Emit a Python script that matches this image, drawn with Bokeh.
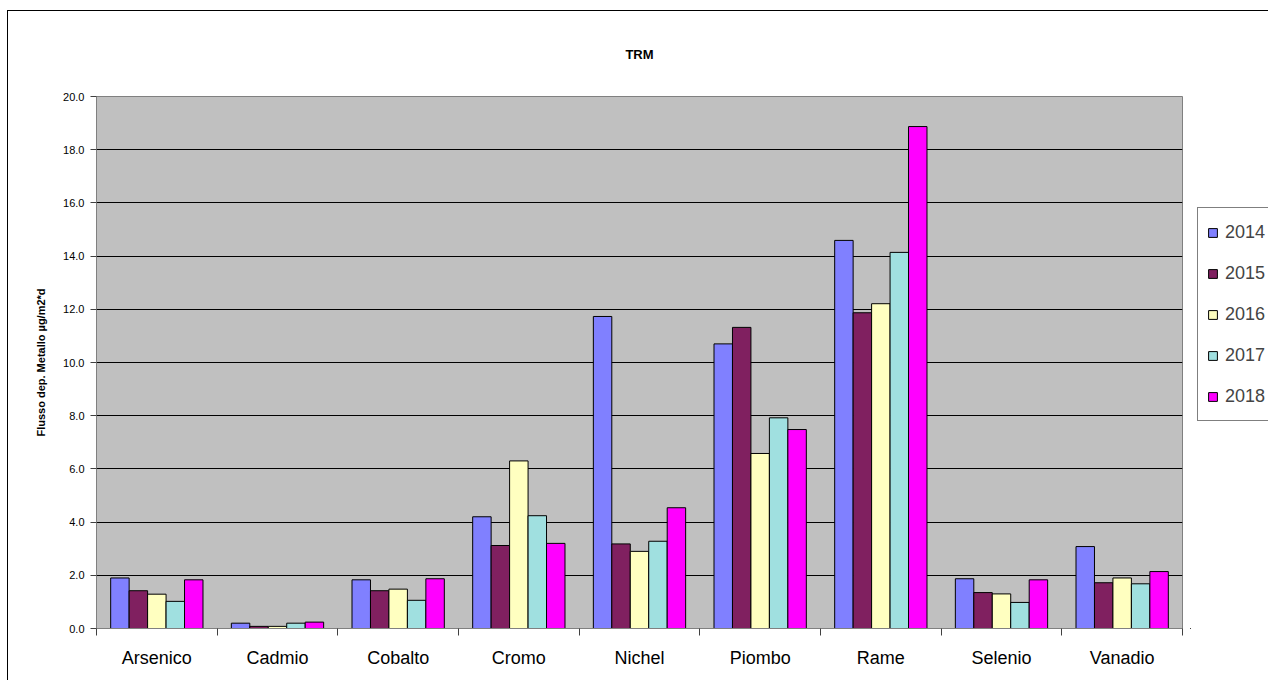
from bokeh.plotting import figure
from bokeh.layouts import row
from bokeh.models import (ColumnDataSource, Range1d, LinearAxis, FixedTicker, Legend, LegendItem,
                          Title, NumeralTickFormatter)
from bokeh.transform import dodge
from bokeh.embed import file_html
from bokeh.resources import INLINE

categories = ["Arsenico", "Cadmio", "Cobalto", "Cromo", "Nichel", "Piombo", "Rame", "Selenio", "Vanadio"]
years = ["2014", "2015", "2016", "2017", "2018"]
v2014 = [1.90, 0.20, 1.83, 4.20, 11.73, 10.70, 14.59, 1.87, 3.08]
v2015 = [1.42, 0.08, 1.42, 3.12, 3.18, 11.32, 11.87, 1.35, 1.72]
v2016 = [1.29, 0.08, 1.48, 6.30, 2.90, 6.58, 12.21, 1.30, 1.90]
v2017 = [1.02, 0.20, 1.06, 4.24, 3.28, 7.92, 14.14, 0.98, 1.68]
v2018 = [1.83, 0.24, 1.87, 3.20, 4.54, 7.48, 18.87, 1.83, 2.14]
colors = ["#8080FF", "#802060", "#FFFFC0", "#A0E0E0", "#FF00FF"]
y_ticks = [0, 2, 4, 6, 8, 10, 12, 14, 16, 18, 20]
title_text = "TRM"
y_label = "Flusso dep. Metallo µg/m2*d"

FONT = "Liberation Sans"

n = len(categories)
centers = [i + 0.5 for i in range(n)]
boundaries = list(range(n + 1))

source = ColumnDataSource(data=dict(x=centers, cat=categories, y2014=v2014, y2015=v2015,
                                    y2016=v2016, y2017=v2017, y2018=v2018))

H = 669
p = figure(x_range=Range1d(0, n), y_range=Range1d(0, 20),
           width=1182, height=H, output_backend="svg", toolbar_location=None,
           x_axis_location=None, y_axis_location=None,
           min_border_left=88, min_border_top=85, min_border_right=8, min_border_bottom=52)

p.background_fill_color = "#C0C0C0"
p.border_fill_color = "white"
p.outline_line_color = "#808080"
p.outline_line_width = 1

# title
p.title = Title(text=title_text, align="center", vertical_align="top", text_font=FONT,
                text_font_size="13px", text_font_style="bold", text_color="black",
                standoff=66)

# y axis
yaxis = LinearAxis(ticker=FixedTicker(ticks=y_ticks), formatter=NumeralTickFormatter(format="0.0"),
                   axis_label=y_label)
yaxis.axis_line_color = "#808080"
yaxis.major_tick_line_color = "#404040"
yaxis.major_tick_out = 6
yaxis.major_tick_in = 0
yaxis.minor_tick_line_color = None
yaxis.major_label_standoff = 6
yaxis.major_label_text_font = FONT
yaxis.major_label_text_font_size = "11px"
yaxis.major_label_text_color = "black"
yaxis.axis_label_text_font = FONT
yaxis.axis_label_text_font_size = "11px"
yaxis.axis_label_text_font_style = "bold"
yaxis.axis_label_text_color = "black"
yaxis.axis_label_standoff = 13
p.add_layout(yaxis, "left")

# x axis: category labels at centres, tick marks between categories
xaxis = LinearAxis(ticker=FixedTicker(ticks=centers, minor_ticks=boundaries))
xaxis.major_label_overrides = {c: name for c, name in zip(centers, categories)}
xaxis.axis_line_color = "#808080"
xaxis.major_tick_line_color = None
xaxis.major_tick_out = 0
xaxis.major_tick_in = 0
xaxis.minor_tick_line_color = "#404040"
xaxis.minor_tick_out = 7
xaxis.minor_tick_in = 0
xaxis.major_label_standoff = 12
xaxis.major_label_text_font = FONT
xaxis.major_label_text_font_size = "18px"
xaxis.major_label_text_color = "black"
p.add_layout(xaxis, "below")

p.xgrid.grid_line_color = None
p.ygrid.ticker = FixedTicker(ticks=y_ticks)
p.ygrid.grid_line_color = "black"
p.ygrid.grid_line_width = 1

bw = 0.153
offsets = [-2 * bw, -bw, 0, bw, 2 * bw]
fields = ["y2014", "y2015", "y2016", "y2017", "y2018"]
for f, off, c in zip(fields, offsets, colors):
    p.vbar(x=dodge("x", off), top=f, width=bw, source=source,
           fill_color=c, line_color="black", line_width=1)

# legend panel (separate canvas to the right of the chart)
lp = figure(width=78, height=H, output_backend="svg", toolbar_location=None,
            x_axis_location=None, y_axis_location=None, x_range=Range1d(0, 1), y_range=Range1d(0, 1),
            min_border=0, min_border_left=0, min_border_right=0, min_border_top=0, min_border_bottom=0)
lp.outline_line_color = None
lp.background_fill_color = "white"
lp.border_fill_color = "white"
lp.xgrid.visible = False
lp.ygrid.visible = False
# swatch-only renderers (their single point lies outside the visible range)
swatch_src = ColumnDataSource(data=dict(x=[-10.0], top=[0.0]))
legend_renderers = []
for c in colors:
    legend_renderers.append(lp.vbar(x="x", top="top", width=0.1, source=swatch_src,
                                    fill_color=c, line_color="black", line_width=1))

legend = Legend(items=[LegendItem(label=yr, renderers=[r]) for yr, r in zip(years, legend_renderers)],
                location=(7, 207))
legend.label_text_font = FONT
legend.label_text_font_size = "18px"
legend.glyph_width = 11
legend.glyph_height = 11
legend.label_height = 30
legend.spacing = 11
legend.padding = 9
legend.margin = 0
legend.label_standoff = 7
legend.border_line_color = "black"
legend.border_line_width = 1
legend.background_fill_color = "white"
legend.background_fill_alpha = 1
lp.add_layout(legend, "center")

layout = row(p, lp)
layout.styles = {"border-left": "1px solid black", "border-top": "1px solid black",
                 "margin-left": "7px", "margin-top": "10px"}

open("out.html", "w").write(file_html(layout, INLINE))
